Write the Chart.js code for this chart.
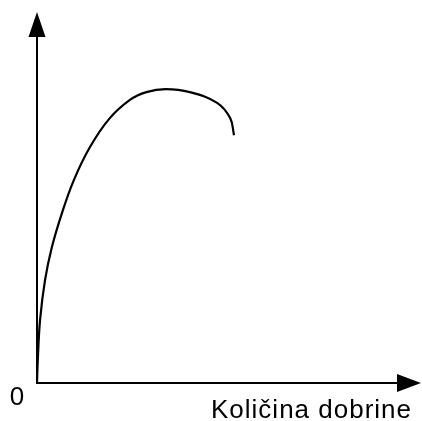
<!DOCTYPE html>
<html>
<head>
<meta charset="utf-8">
<script src="https://cdn.jsdelivr.net/npm/chart.js@4/dist/chart.umd.min.js"></script>
<style>
  html, body { margin: 0; padding: 0; background: #fff; }
  #wrap { width: 422px; height: 421px; }
</style>
</head>
<body>
<div id="wrap"><canvas id="c" width="422" height="421"></canvas></div>
<script>
// curve (quantity -> total utility), arbitrary units 0..100
const quantity = [0, 0.2, 0.8, 2.1, 3.9, 6.5, 9.6, 13.8, 18.8, 24.2, 28.5, 33.5, 39.8, 46.9, 50.3, 51.3]
const utility  = [0, 6, 17, 27.8, 36.7, 45.8, 54.7, 63.6, 71.2, 76.3, 78.4, 79.2, 78.4, 75.5, 71.4, 66.8]

const xLabel = 'Količina dobrine'
const originLabel = '0'

const points = quantity.map((q, i) => ({ x: q, y: utility[i] }))

// axes with arrow heads, plus the two labels
const arrowAxes = {
  id: 'arrowAxes',
  afterDraw(chart) {
    const { ctx, scales: { x, y } } = chart
    const x0 = x.getPixelForValue(0)
    const x1 = x.getPixelForValue(100)
    const y0 = y.getPixelForValue(0)
    const y1 = y.getPixelForValue(100)

    ctx.save()
    ctx.strokeStyle = '#000'
    ctx.fillStyle = '#000'
    ctx.lineWidth = 2

    // y axis
    ctx.beginPath()
    ctx.moveTo(x0, y0)
    ctx.lineTo(x0, y1 + 20)
    ctx.stroke()
    ctx.beginPath()
    ctx.moveTo(x0, y1)
    ctx.lineTo(x0 - 8.5, y1 + 25)
    ctx.lineTo(x0 + 8.5, y1 + 25)
    ctx.closePath()
    ctx.fill()

    // x axis
    ctx.beginPath()
    ctx.moveTo(x0 - 1, y0)
    ctx.lineTo(x1 - 20, y0)
    ctx.stroke()
    ctx.beginPath()
    ctx.moveTo(x1, y0)
    ctx.lineTo(x1 - 24, y0 - 9)
    ctx.lineTo(x1 - 24, y0 + 9)
    ctx.closePath()
    ctx.fill()

    // labels
    ctx.font = '26px "Liberation Sans", Arial, sans-serif'
    ctx.textBaseline = 'alphabetic'
    ctx.textAlign = 'center'
    ctx.fillText(originLabel, x0 - 20, y0 + 22)
    ctx.textAlign = 'left'
    ctx.letterSpacing = '1px'
    ctx.fillText(xLabel, x0 + 174, y0 + 35)
    ctx.restore()
  }
}

new Chart(document.getElementById('c'), {
  type: 'line',
  data: {
    datasets: [{
      data: points,
      borderColor: '#000',
      borderWidth: 2.2,
      pointRadius: 0,
      fill: false,
      tension: 0.4
    }]
  },
  options: {
    responsive: false,
    animation: false,
    layout: { padding: { left: 37, top: 12, right: 1, bottom: 38 } },
    plugins: { legend: { display: false }, tooltip: { enabled: false } },
    scales: {
      x: { type: 'linear', min: 0, max: 100, display: false },
      y: { type: 'linear', min: 0, max: 100, display: false }
    }
  },
  plugins: [arrowAxes]
})
</script>
</body>
</html>
